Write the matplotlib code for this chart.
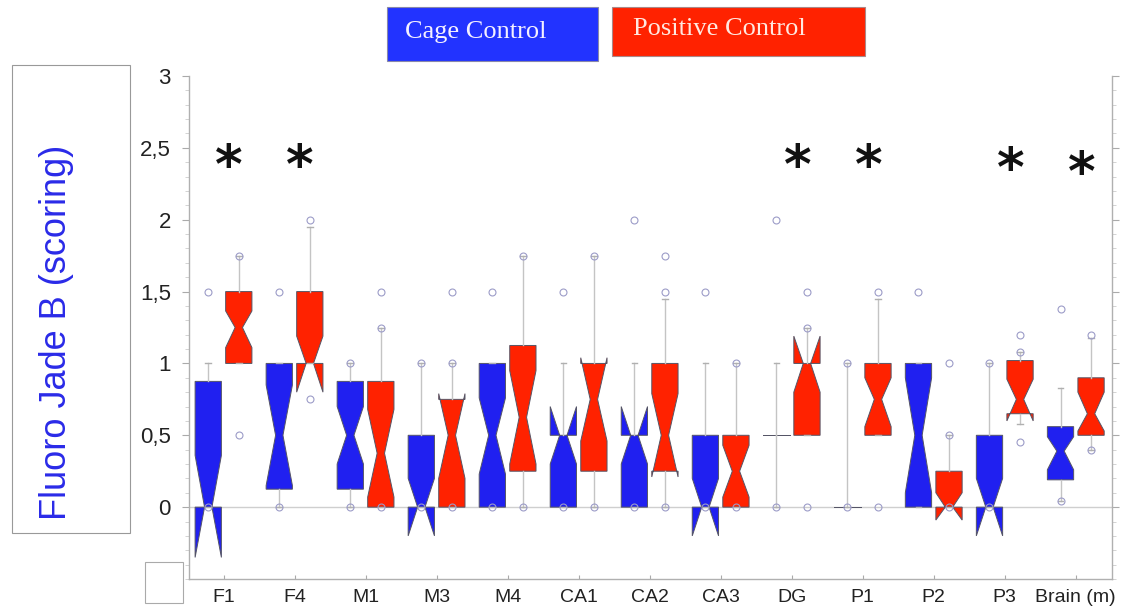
import numpy as np
import matplotlib.pyplot as plt
from matplotlib.patches import Rectangle

# regions on the x axis
categories = ['F1', 'F4', 'M1', 'M3', 'M4', 'CA1', 'CA2', 'CA3', 'DG', 'P1', 'P2', 'P3', 'Brain (m)']

# Cage Control (blue) box statistics
cage_q1 = [0, 0.125, 0.125, 0, 0, 0, 0, 0, 0.5, 0, 0, 0, 0.19]
cage_med = [0, 0.5, 0.5, 0, 0.5, 0.5, 0.5, 0, 0.5, 0, 0.5, 0, 0.39]
cage_q3 = [0.875, 1.0, 0.875, 0.5, 1.0, 0.5, 0.5, 0.5, 0.5, 0, 1.0, 0.5, 0.56]
cage_cilo = [-0.35, 0.15, 0.3, -0.2, 0.23, 0.3, 0.3, -0.2, 0.5, 0, 0.1, -0.2, 0.26]
cage_cihi = [0.36, 0.85, 0.7, 0.2, 0.76, 0.7, 0.7, 0.2, 0.5, 0, 0.9, 0.2, 0.49]
cage_whislo = [0, 0, 0, 0, 0, 0, 0, 0, 0, 0, 0, 0, 0.04]
cage_whishi = [1.0, 1.0, 1.0, 1.0, 1.0, 1.0, 1.0, 1.0, 1.0, 1.0, 1.0, 1.0, 0.83]
cage_fliers = [[1.5, 0], [1.5, 0], [1.0, 0], [1.0, 0], [1.5, 0], [1.5, 0], [2.0, 0],
               [1.5, 0], [2.0, 0], [1.0, 0], [1.5], [1.0, 0], [1.38, 0.04]]

# Positive Control (red) box statistics
pos_q1 = [1.0, 1.0, 0, 0, 0.25, 0.25, 0.25, 0, 0.5, 0.5, 0, 0.65, 0.5]
pos_med = [1.25, 1.0, 0.375, 0.5, 0.625, 0.75, 0.5, 0.25, 1.0, 0.75, 0, 0.75, 0.65]
pos_q3 = [1.5, 1.5, 0.875, 0.75, 1.125, 1.0, 1.0, 0.5, 1.0, 1.0, 0.25, 1.02, 0.9]
pos_cilo = [1.11, 0.8, 0.07, 0.2, 0.3, 0.46, 0.21, 0.07, 0.8, 0.56, -0.09, 0.6, 0.53]
pos_cihi = [1.365, 1.19, 0.68, 0.79, 0.95, 1.04, 0.79, 0.43, 1.19, 0.9, 0.1, 0.89, 0.8]
pos_whislo = [1.0, 1.0, 0, 0, 0, 0, 0, 0, 0.5, 0.5, 0, 0.58, 0.4]
pos_whishi = [1.75, 1.95, 1.25, 1.0, 1.75, 1.75, 1.45, 1.0, 1.25, 1.45, 0.5, 1.08, 1.18]
pos_fliers = [[1.75, 0.5], [2.0, 0.75], [1.5, 1.25, 0], [1.5, 1.0, 0], [1.75, 0], [1.75, 0],
              [1.5, 1.75, 0], [1.0, 0], [1.25, 1.5, 0], [1.5, 0], [0.5, 1.0, 0],
              [1.08, 1.2, 0.45], [1.2, 0.4]]

# significance stars
star_cats = ['F1', 'F4', 'DG', 'P1', 'P3', 'Brain (m)']
star_y = [2.36, 2.36, 2.36, 2.36, 2.34, 2.31]

BLUE = '#2020f0'
RED = '#ff2200'


def make_stats(q1, med, q3, cilo, cihi, wlo, whi, fliers):
    stats = []
    for i in range(len(q1)):
        stats.append(dict(q1=q1[i], med=med[i], q3=q3[i], cilo=cilo[i], cihi=cihi[i],
                          whislo=wlo[i], whishi=whi[i], fliers=np.array(fliers[i])))
    return stats


fig = plt.figure(figsize=(11.29, 6.06), dpi=100)
ax = fig.add_axes([189 / 1129, 1 - 579 / 606, (1112 - 189) / 1129, (579 - 76) / 606])

x = np.arange(len(categories))
offset = 0.215
width = 0.37

ax.axhline(0, color='#cfcfcf', lw=1, zorder=0)

for stats, pos, col in [(make_stats(cage_q1, cage_med, cage_q3, cage_cilo, cage_cihi,
                                    cage_whislo, cage_whishi, cage_fliers), x - offset, BLUE),
                        (make_stats(pos_q1, pos_med, pos_q3, pos_cilo, pos_cihi,
                                    pos_whislo, pos_whishi, pos_fliers), x + offset, RED)]:
    art = ax.bxp(stats, positions=pos, widths=width, capwidths=0.08, shownotches=True,
                 patch_artist=True, manage_ticks=False,
                 boxprops=dict(facecolor=col, edgecolor='#555566', linewidth=0.7),
                 whiskerprops=dict(color='#c4c4c4', linewidth=1),
                 capprops=dict(color='#b0b0b0', linewidth=1),
                 medianprops=dict(linewidth=0),
                 flierprops=dict(marker='o', markersize=5, markerfacecolor='none',
                                 markeredgecolor='#9c9cc8', markeredgewidth=0.8, zorder=3))
    # pinch the notches a bit tighter than matplotlib's default half width
    for box, p in zip(art['boxes'], pos):
        v = box.get_path().vertices
        waist = np.isclose(np.abs(v[:, 0] - p), width * 0.25)
        v[waist, 0] = p + np.sign(v[waist, 0] - p) * width * 0.14

for c, yv in zip(star_cats, star_y):
    ax.text(categories.index(c) + 0.08, yv, '*', fontsize=38, fontweight='bold', ha='center',
            va='center', family='DejaVu Sans', color='#111111')

ax.set_xlim(-0.486, 12.51)
ax.set_ylim(-0.5, 3)
ax.set_xticks(x)
ax.set_xticklabels(categories, family='Liberation Sans', fontsize=14, color='#222222')
ax.set_yticks([0, 0.5, 1, 1.5, 2, 2.5, 3])
ax.set_yticklabels(['0', '0,5', '1', '1,5', '2', '2,5', '3'], family='Liberation Sans',
                   fontsize=16, color='#222222')
ax.set_yticks(np.arange(-0.5, 3.01, 0.1), minor=True)
ax.tick_params(axis='y', which='major', length=5, color='#aaaaaa', pad=8, right=True)
ax.tick_params(axis='y', which='minor', length=3, color='#cccccc', right=True)
ax.tick_params(axis='x', length=3, direction='in', color='#aaaaaa', pad=7)
ax.spines['top'].set_visible(False)
for s in ['left', 'right', 'bottom']:
    ax.spines[s].set_color('#b0b0b0')
    ax.spines[s].set_linewidth(1)

# y label in its own framed box
fig.patches.append(Rectangle((12 / 1129, 1 - 533 / 606), 118 / 1129, 468 / 606,
                             transform=fig.transFigure, fill=False, edgecolor='#999999', lw=0.8))
fig.text(57 / 1129, 1 - 332 / 606, 'Fluoro Jade B (scoring)', rotation=90, ha='center', va='center',
         family='Liberation Sans', fontsize=26, color='#2a2ae8')

# small empty box at the bottom left
fig.patches.append(Rectangle((145 / 1129, 1 - 603 / 606), 38 / 1129, 41 / 606,
                             transform=fig.transFigure, fill=False, edgecolor='#aaaaaa', lw=0.8))

# legend boxes at the top
fig.patches.append(Rectangle((387 / 1129, 1 - 61 / 606), 211 / 1129, 54 / 606,
                             transform=fig.transFigure, facecolor='#2233ff', edgecolor='#8888aa', lw=0.8))
fig.patches.append(Rectangle((612 / 1129, 1 - 56 / 606), 253 / 1129, 49 / 606,
                             transform=fig.transFigure, facecolor='#ff2200', edgecolor='#aa8888', lw=0.8))
fig.text(405 / 1129, 1 - 32 / 606, 'Cage Control', ha='left', va='center',
         family='Liberation Serif', fontsize=19, color='#f4f0ff')
fig.text(633 / 1129, 1 - 29 / 606, 'Positive Control', ha='left', va='center',
         family='Liberation Serif', fontsize=19, color='#ffe8e0')

fig.savefig('out.png', dpi=100)
